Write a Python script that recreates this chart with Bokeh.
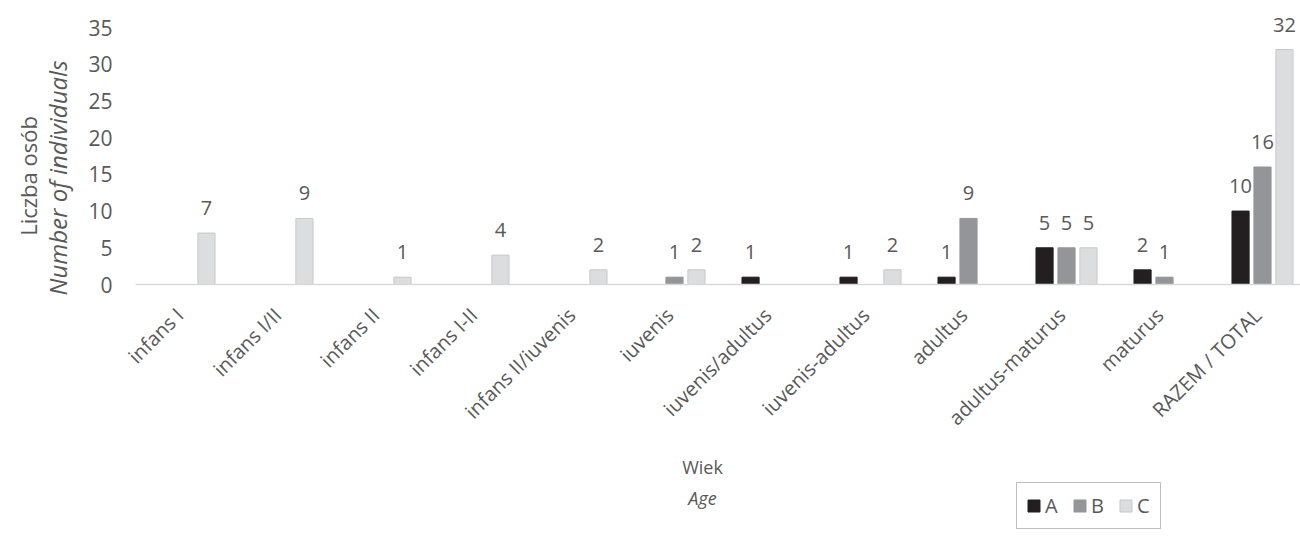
import math
from bokeh.plotting import figure
from bokeh.models import (ColumnDataSource, Range1d, FixedTicker, Label, Legend, LegendItem)
from bokeh.core.properties import value
from bokeh.embed import file_html
from bokeh.resources import INLINE

categories = ["infans I", "infans I/II", "infans II", "infans I-II", "infans II/iuvenis",
              "iuvenis", "iuvenis/adultus", "iuvenis-adultus", "adultus", "adultus-maturus",
              "maturus", "RAZEM / TOTAL"]
series_names = ["A", "B", "C"]
values_A = [0, 0, 0, 0, 0, 0, 1, 1, 1, 5, 2, 10]
values_B = [0, 0, 0, 0, 0, 1, 0, 0, 9, 5, 1, 16]
values_C = [7, 9, 1, 4, 2, 2, 0, 2, 0, 5, 0, 32]
y_ticks = [0, 5, 10, 15, 20, 25, 30, 35]

FONT = "Open Sans"
TXT = "#595959"
colors = ["#231f20", "#939598", "#dcddde"]
borders = [None, None, "#c6c7c9"]
offsets = [-0.224, 0.0, 0.224]
bar_w = 0.175
label_nudge = -0.05   # small shift of the rotated category labels

W, H = 1300, 536
X0, Y0 = 135, 284          # pixel position of the data origin
PX_X = 98.0                # pixels per category
PX_Y = 257.0 / 35.0        # pixels per unit


def dx(px):
    return (px - X0) / PX_X


def dy(py):
    return (Y0 - py) / PX_Y


p = figure(width=W, height=H, output_backend="svg", toolbar_location=None,
           x_range=Range1d(dx(0), dx(W)), y_range=Range1d(dy(H), dy(0)),
           min_border=0, min_border_left=0, min_border_right=0,
           min_border_top=0, min_border_bottom=0)
p.outline_line_color = None
p.xgrid.grid_line_color = None
p.ygrid.grid_line_color = None

legend_items = []
for s, vals, col, bc, off in zip(series_names, [values_A, values_B, values_C], colors, borders, offsets):
    xs = [i + 0.5 + off for i, v in enumerate(vals) if v > 0]
    ys = [v for v in vals if v > 0]
    src = ColumnDataSource(dict(x=xs, top=ys, label=[str(v) for v in ys]))
    r = p.vbar(x="x", top="top", bottom=0, width=bar_w, source=src, fill_color=col,
               line_color=bc if bc else col, line_width=1)
    legend_items.append(LegendItem(label=s, renderers=[r]))
    p.text(x="x", y="top", text="label", source=src, text_align="center",
           text_baseline="alphabetic", y_offset=-25, text_font=value(FONT),
           text_font_size="20px", text_color=TXT)

# y axis, drawn at x = 0
p.yaxis.fixed_location = 0
p.yaxis.ticker = FixedTicker(ticks=y_ticks)
p.yaxis.axis_line_color = None
p.yaxis.major_tick_line_color = None
p.yaxis.minor_tick_line_color = None
p.yaxis.major_tick_out = 0
p.yaxis.major_tick_in = 0
p.yaxis.major_label_text_font = FONT
p.yaxis.major_label_text_font_size = "21px"
p.yaxis.major_label_text_color = TXT
p.yaxis.major_label_standoff = 23

# x axis, drawn at y = 0
tick_pos = [i + 0.5 + label_nudge for i in range(len(categories))]
p.xaxis.fixed_location = 0
p.xaxis.bounds = (0, len(categories))
p.xaxis.ticker = FixedTicker(ticks=tick_pos)
p.xaxis.major_label_overrides = {t: c for t, c in zip(tick_pos, categories)}
p.xaxis.axis_line_color = "#d9d9d9"
p.xaxis.axis_line_width = 1.5
p.xaxis.major_tick_line_color = None
p.xaxis.minor_tick_line_color = None
p.xaxis.major_tick_out = 0
p.xaxis.major_tick_in = 0
p.xaxis.major_label_orientation = math.pi / 4
p.xaxis.major_label_text_font = FONT
p.xaxis.major_label_text_font_size = "20px"
p.xaxis.major_label_text_color = TXT
p.xaxis.major_label_standoff = 27

p.add_layout(Label(x=dx(27), y=dy(175.5), text="Liczba osób", angle=math.pi / 2,
                   text_align="center", text_baseline="middle", text_font=FONT,
                   text_font_size="22px", text_color=TXT))
p.add_layout(Label(x=dx(57), y=dy(177.5), text="Number of individuals", angle=math.pi / 2,
                   text_align="center", text_baseline="middle", text_font=FONT,
                   text_font_style="italic", text_font_size="24px", text_color=TXT))
p.add_layout(Label(x=dx(702), y=dy(466), text="Wiek", text_align="center",
                   text_baseline="middle", text_font=FONT, text_font_size="18px",
                   text_color=TXT))
p.add_layout(Label(x=dx(702), y=dy(497), text="Age", text_align="center",
                   text_baseline="middle", text_font=FONT, text_font_style="italic",
                   text_font_size="18px", text_color=TXT))

legend = Legend(items=legend_items, orientation="horizontal", location=(1016, 7),
                border_line_color="#808080", border_line_width=1.5,
                label_text_font=FONT, label_text_font_size="20px", label_text_color=TXT,
                glyph_width=15, glyph_height=15, label_standoff=4, label_width=14,
                spacing=13, padding=9, margin=0, background_fill_alpha=1)
p.add_layout(legend, "center")

open("out.html", "w").write(file_html(p, INLINE))
